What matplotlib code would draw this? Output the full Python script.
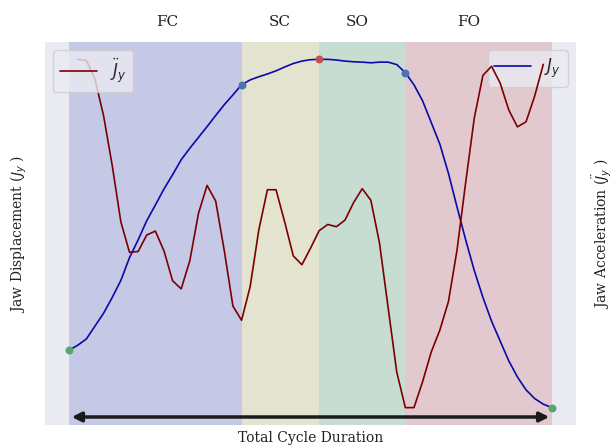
import numpy as np
import seaborn as sns
from matplotlib import pyplot as plt

# Jaw displacement (mm), one value per sample of the chewing cycle
disp = [1.65, 1.79, 1.97, 2.34, 2.71, 3.16, 3.65, 4.30, 4.81, 5.36,
        5.81, 6.27, 6.68, 7.11, 7.44, 7.75, 8.06, 8.38, 8.69, 8.97,
        9.26, 9.40, 9.49, 9.57, 9.66, 9.77, 9.87, 9.94, 9.98, 9.99,
        9.99, 9.97, 9.94, 9.92, 9.91, 9.89, 9.91, 9.91, 9.84, 9.61,
        9.26, 8.80, 8.18, 7.56, 6.72, 5.75, 4.81, 3.93, 3.16, 2.48,
        1.91, 1.34, 0.88, 0.51, 0.26, 0.10, 0.00]

# Jaw acceleration, central differences -> first and last sample dropped
accel = [100.6, 100.0, 89.1, 68.0, 39.4, 7.0, -10.5, -10.1, -0.6,
         1.7, -9.7, -26.9, -31.6, -15.4, 11.8, 28.0, 19.0, -9.7, -41.5,
         -49.7, -30.3, 2.3, 25.5, 25.5, 7.0, -12.6, -17.7, -8.2, 1.9,
         5.5, 4.2, 8.0, 18.1, 26.1, 19.4, -5.1, -42.3, -79.4, -100.0,
         -100.0, -85.1, -68.0, -55.4, -38.9, -9.1, 29.7, 66.9, 91.4, 96.6,
         86.9, 71.4, 61.7, 64.6, 79.4, 97.7]

# Phase boundaries (sample index) and names
phases = ['FC', 'SC', 'SO', 'FO']
bounds = [0, 20, 29, 39, 56]
phase_label_x = [11.4, 24.4, 33.4, 46.4]
phase_colors = ['#c5c9e6', '#e3e3d0', '#c7ddd1', '#e2c9cf']

t = np.arange(len(disp))
t_acc = t[1:-1]
disp = np.array(disp)

sns.set_theme(style='darkgrid')
plt.rcParams['font.family'] = ['DejaVu Serif']

fig = plt.figure(figsize=(6.13, 4.46), dpi=100)
ax = fig.add_axes([0.0734, 0.047, 0.8663, 0.859])
ax.grid(False)

for i, name in enumerate(phases):
    ax.axvspan(bounds[i], bounds[i + 1], color=phase_colors[i], lw=0)
    ax.text(phase_label_x[i], 1.052, name, transform=ax.get_xaxis_transform(),
            ha='center', va='center', fontsize=11, color='#222222')

ax.plot(t, disp, color='#0a0aa8', lw=1.2, label=r'$J_y$')

# key events on the displacement curve
ax.scatter([bounds[0], bounds[-1]], disp[[bounds[0], bounds[-1]]],
           color='#55a868', s=22, zorder=5)
ax.scatter([bounds[1], bounds[3]], disp[[bounds[1], bounds[3]]],
           color='#4c72b0', s=22, zorder=5)
ax.scatter([bounds[2]], disp[[bounds[2]]], color='#c44e52', s=22, zorder=5)

ax.annotate('', xy=(55.7, 0.021), xytext=(0.3, 0.021),
            xycoords=('data', 'axes fraction'),
            textcoords=('data', 'axes fraction'),
            arrowprops=dict(arrowstyle='<|-|>', color='#1a1a1a', lw=2.5,
                            mutation_scale=14, shrinkA=0, shrinkB=0))

ax.legend(loc='upper right', fontsize=12, handlelength=2.2)

ax2 = ax.twinx()
ax2.grid(False)
ax2.plot(t_acc, accel, color='#7a0000', lw=1.2, label=r'$\ddot{J}_y$')
ax2.legend(loc='upper left', fontsize=12, handlelength=2.2)

for a in (ax, ax2):
    a.set_xticks([])
    a.set_yticks([])
    for s in a.spines.values():
        s.set_visible(False)

ax.set_xlabel('Total Cycle Duration', fontsize=10, color='#222222')
ax.xaxis.set_label_coords(0.5, -0.016)
ax.set_ylabel(r'Jaw Displacement ($J_y$ )', fontsize=10, color='#222222')
ax.yaxis.set_label_coords(-0.030, 0.5)
ax2.set_ylabel(r'Jaw Acceleration ($\ddot{J}_y$ )', fontsize=10, color='#222222')
ax2.yaxis.set_label_coords(1.026, 0.5)

fig.savefig('out.png', dpi=100)
